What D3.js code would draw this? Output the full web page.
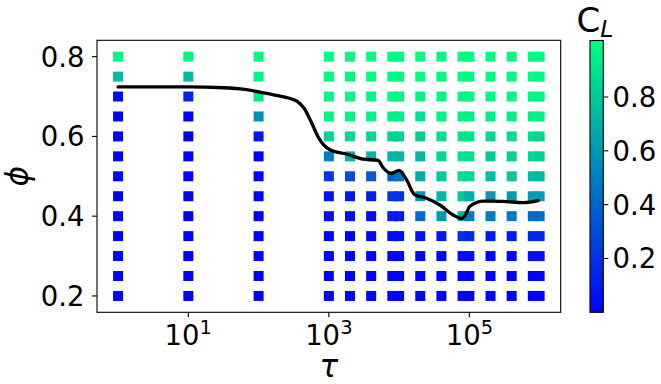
<!DOCTYPE html>
<html>
<head>
<meta charset="utf-8">
<script src="https://cdn.jsdelivr.net/npm/d3@7"></script>
<style>
  body { margin: 0; background: #fff; }
  svg text { font-family: "DejaVu Sans", sans-serif; fill: #000; }
</style>
</head>
<body>
<svg id="chart" width="661" height="384"></svg>
<script>
// Relaxation time grid (columns) and packing fraction grid (rows)
const tauValues = [1, 10, 100, 1000, 2000, 4000, 8000, 1e4, 2e4, 4e4, 8e4, 1e5, 2e5, 4e5, 8e5, 1e6];
const phiValues = [0.20, 0.25, 0.30, 0.35, 0.40, 0.45, 0.50, 0.55, 0.60, 0.65, 0.70, 0.75, 0.80];

// C_L for each tau column, listed from phi = 0.20 up to phi = 0.80
const clTau1     = [0.01, 0.01, 0.01, 0.01, 0.01, 0.01, 0.01, 0.01, 0.01, 0.01, 0.05, 0.75, 0.97];
const clTau10    = [0.01, 0.01, 0.01, 0.01, 0.01, 0.01, 0.01, 0.01, 0.01, 0.01, 0.14, 0.75, 0.97];
const clTau100   = [0.01, 0.01, 0.01, 0.01, 0.01, 0.01, 0.01, 0.01, 0.09, 0.57, 0.94, 0.97, 0.98];
const clTau1e3   = [0.01, 0.01, 0.01, 0.02, 0.04, 0.07, 0.20, 0.50, 0.85, 0.97, 0.98, 0.99, 0.99];
const clTau2e3   = [0.01, 0.01, 0.01, 0.01, 0.05, 0.10, 0.30, 0.70, 0.86, 0.97, 0.98, 0.99, 0.99];
const clTau4e3   = [0.01, 0.01, 0.01, 0.04, 0.05, 0.12, 0.35, 0.72, 0.86, 0.97, 0.98, 0.99, 0.99];
const clTau8e3   = [0.01, 0.01, 0.02, 0.05, 0.12, 0.20, 0.38, 0.72, 0.82, 0.95, 0.98, 0.99, 0.99];
const clTau1e4   = [0.01, 0.01, 0.02, 0.05, 0.10, 0.20, 0.45, 0.72, 0.82, 0.95, 0.98, 0.99, 0.99];
const clTau2e4   = [0.01, 0.01, 0.02, 0.07, 0.42, 0.60, 0.68, 0.73, 0.82, 0.90, 0.97, 0.99, 0.99];
const clTau4e4   = [0.01, 0.01, 0.03, 0.10, 0.62, 0.72, 0.80, 0.85, 0.88, 0.97, 0.98, 0.99, 0.99];
const clTau8e4   = [0.01, 0.02, 0.05, 0.20, 0.72, 0.80, 0.88, 0.92, 0.92, 0.96, 0.98, 0.99, 0.99];
const clTau1e5   = [0.01, 0.02, 0.05, 0.15, 0.50, 0.70, 0.85, 0.90, 0.90, 0.95, 0.98, 0.99, 0.99];
const clTau2e5   = [0.01, 0.01, 0.03, 0.12, 0.48, 0.60, 0.75, 0.80, 0.85, 0.93, 0.98, 0.99, 0.99];
const clTau4e5   = [0.01, 0.01, 0.02, 0.10, 0.48, 0.62, 0.78, 0.82, 0.87, 0.95, 0.98, 0.99, 0.99];
const clTau8e5   = [0.01, 0.02, 0.05, 0.15, 0.42, 0.62, 0.75, 0.85, 0.88, 0.95, 0.98, 0.99, 0.99];
const clTau1e6   = [0.01, 0.02, 0.05, 0.15, 0.42, 0.62, 0.72, 0.82, 0.85, 0.95, 0.98, 0.99, 0.99];

// Transition boundary phi*(tau)
const boundaryTau = [1, 3.16, 10, 31.6, 63, 112, 178, 282, 355, 447, 562, 708, 851, 1050, 1780, 3090,
                     5010, 5890, 7760, 10000, 12900, 16600, 24500, 38000, 58900, 77600, 87100,
                     102000, 158000, 302000, 589000, 955000];
const boundaryPhi = [0.724, 0.724, 0.724, 0.722, 0.718, 0.710, 0.703, 0.695, 0.688, 0.670, 0.636, 0.598,
                     0.578, 0.566, 0.556, 0.543, 0.540, 0.522, 0.507, 0.515, 0.490, 0.454, 0.445,
                     0.428, 0.403, 0.394, 0.402, 0.425, 0.438, 0.437, 0.434, 0.439];

// Tick values
const xTicks = [10, 1000, 100000];
const xTickExponents = ["1", "3", "5"];
const yTicks = [0.2, 0.4, 0.6, 0.8];
const yTickLabels = ["0.2", "0.4", "0.6", "0.8"];
const cbTicks = [0.2, 0.4, 0.6, 0.8];
const cbTickLabels = ["0.2", "0.4", "0.6", "0.8"];

const clColumns = [clTau1, clTau10, clTau100, clTau1e3, clTau2e3, clTau4e3, clTau8e3, clTau1e4,
                   clTau2e4, clTau4e4, clTau8e4, clTau1e5, clTau2e5, clTau4e5, clTau8e5, clTau1e6];

// ---- layout ----
const plot = { left: 97, right: 560.7, top: 40.3, bottom: 312.3 };
const cbar = { left: 590, right: 603.3, top: 40.5, bottom: 312.3 };
const clMin = 0.0, clMax = 1.01;
const tickFont = 27.5;

const svg = d3.select("#chart");

const x = d3.scaleLog().domain([Math.pow(10, -0.3), Math.pow(10, 6.3)]).range([plot.left, plot.right]);
const y = d3.scaleLinear().domain([0.159, 0.841]).range([plot.bottom, plot.top]);

// "winter" colormap: blue -> spring green
const winter = d3.interpolateRgb("#0000ff", "#00ff80");
const norm = d3.scaleLinear().domain([clMin, clMax]).range([0, 1]).clamp(true);
const color = v => winter(norm(v));

// ---- markers ----
const points = [];
tauValues.forEach((t, i) => {
  phiValues.forEach((p, j) => points.push({ tau: t, phi: p, cl: clColumns[i][j] }));
});
const ms = 10;
svg.append("g").selectAll("rect").data(points).join("rect")
  .attr("x", d => x(d.tau) - ms / 2)
  .attr("y", d => y(d.phi) - ms / 2)
  .attr("width", ms).attr("height", ms)
  .attr("fill", d => color(d.cl));

// ---- boundary line ----
const lineData = boundaryTau.map((t, i) => [t, boundaryPhi[i]]);
svg.append("path")
  .datum(lineData)
  .attr("fill", "none")
  .attr("stroke", "#000")
  .attr("stroke-width", 3.3)
  .attr("stroke-linejoin", "round")
  .attr("stroke-linecap", "round")
  .attr("d", d3.line().x(d => x(d[0])).y(d => y(d[1])).curve(d3.curveMonotoneX));

// ---- frame ----
svg.append("rect")
  .attr("x", plot.left).attr("y", plot.top)
  .attr("width", plot.right - plot.left).attr("height", plot.bottom - plot.top)
  .attr("fill", "none").attr("stroke", "#000").attr("stroke-width", 1.1);

// ---- x axis ----
const tickLen = 5;
const xg = svg.append("g");
xTicks.forEach((t, i) => {
  const px = x(t);
  xg.append("line").attr("x1", px).attr("x2", px)
    .attr("y1", plot.bottom).attr("y2", plot.bottom + tickLen)
    .attr("stroke", "#000").attr("stroke-width", 1.1);
  const tx = xg.append("text").attr("x", px).attr("y", 345)
    .attr("text-anchor", "middle").attr("font-size", tickFont);
  tx.append("tspan").text("10");
  tx.append("tspan").attr("dy", -11).attr("font-size", 19.5).text(xTickExponents[i]);
});
svg.append("text")
  .attr("x", (plot.left + plot.right) / 2).attr("y", 377)
  .attr("text-anchor", "middle").attr("font-size", 31).attr("font-style", "italic")
  .text("τ");

// ---- y axis ----
const yg = svg.append("g");
yTicks.forEach((v, i) => {
  const py = y(v);
  yg.append("line").attr("x1", plot.left - tickLen).attr("x2", plot.left)
    .attr("y1", py).attr("y2", py)
    .attr("stroke", "#000").attr("stroke-width", 1.1);
  yg.append("text").attr("x", 84.5).attr("y", py + 10)
    .attr("text-anchor", "end").attr("font-size", tickFont).text(yTickLabels[i]);
});
svg.append("text")
  .attr("transform", `translate(28,${(plot.top + plot.bottom) / 2}) rotate(-90)`)
  .attr("text-anchor", "middle").attr("font-size", 31).attr("font-style", "italic")
  .text("ϕ");

// ---- colorbar ----
const defs = svg.append("defs");
const grad = defs.append("linearGradient").attr("id", "clGrad")
  .attr("x1", 0).attr("y1", 1).attr("x2", 0).attr("y2", 0);
d3.range(0, 1.0001, 0.1).forEach(s => {
  grad.append("stop").attr("offset", s).attr("stop-color", winter(s));
});
svg.append("rect")
  .attr("x", cbar.left).attr("y", cbar.top)
  .attr("width", cbar.right - cbar.left).attr("height", cbar.bottom - cbar.top)
  .attr("fill", "url(#clGrad)").attr("stroke", "#000").attr("stroke-width", 1.1);

const cy = d3.scaleLinear().domain([clMin, clMax]).range([cbar.bottom, cbar.top]);
cbTicks.forEach((v, i) => {
  const py = cy(v);
  svg.append("line").attr("x1", cbar.right).attr("x2", cbar.right + tickLen)
    .attr("y1", py).attr("y2", py).attr("stroke", "#000").attr("stroke-width", 1.1);
  svg.append("text").attr("x", 612.5).attr("y", py + 10)
    .attr("font-size", tickFont).text(cbTickLabels[i]);
});

const title = svg.append("text").attr("x", 576.5).attr("y", 31.7).attr("font-size", 34);
title.append("tspan").text("C");
title.append("tspan").attr("dy", 5).attr("font-size", 23.5).attr("font-style", "italic").text("L");
</script>
</body>
</html>
